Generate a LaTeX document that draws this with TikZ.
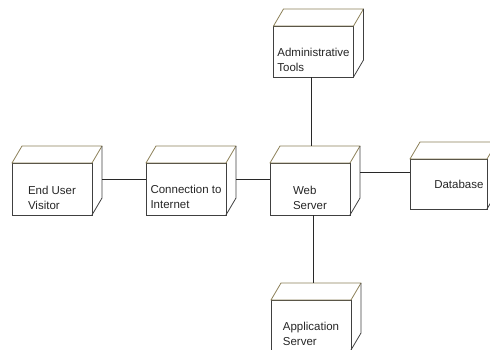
\documentclass[tikz,border=0pt]{standalone}
\usepackage{fontspec}
\setmainfont{Liberation Sans}
\usetikzlibrary{positioning}

\definecolor{edgegray}{RGB}{64,64,64}
\definecolor{topolive}{RGB}{140,128,88}
\definecolor{linkgray}{RGB}{40,40,40}
\newcommand{\lift}[1]{\rule{0pt}{#1}}

\begin{document}
\begin{tikzpicture}[
    x=1pt, y=1pt,
    cube/.style={rectangle, draw=edgegray, line width=0.8pt, outer sep=0pt, minimum width=80pt, minimum height=52pt, align=left, text=black!85, font=\fontsize{11.5}{15}\selectfont},
    topface/.style={draw=topolive, line width=0.8pt, line join=round},
    sideface/.style={draw=edgegray, line width=0.8pt, line join=round},
    link/.style={draw=linkgray, line width=0.8pt}
]
\clip (0,0) rectangle (490,349);

\node[cube] (web) at (310,160) {\lift{27pt}Web\\Server};
\node[cube, left=44pt of web] (conn) {\lift{24pt}Connection to\\Internet};
\node[cube, left=54pt of conn] (user) {\lift{26pt}End User\\Visitor};
\node[cube, minimum height=51pt, above=86pt of web, xshift=3.5pt] (admin) {\lift{25pt}Administrative\\Tools};
\node[cube, minimum width=77pt, minimum height=50pt, right=60pt of web, yshift=5pt, text width=70pt, align=right] (db) {Database};
\node[cube, minimum height=50pt, below=85pt of web, xshift=1pt] (app) {\lift{26pt}Application\\Server};

% top and side faces
\foreach \n in {user,conn,web,admin,db,app} {
  \draw[topface] (\n.north west) -- ++(10,17) -- ([shift={(10,17)}]\n.north east) -- (\n.north east) -- cycle;
  \draw[sideface] ([shift={(10,17)}]\n.north east) -- ([shift={(10,17)}]\n.south east) -- (\n.south east);
}

\draw[link] ([shift={(10pt,10pt)}]user.east) -- ([yshift=10pt]conn.west);
\draw[link] ([shift={(10pt,10pt)}]conn.east) -- ([yshift=10pt]web.west);
\draw[link] ([shift={(10pt,17pt)}]web.east) -- ([yshift=12pt]db.west);
\draw[link] ([xshift=-2pt]admin.south) -- ([shift={(1.5pt,17pt)}]web.north);
\draw[link] ([xshift=3pt]web.south) -- ([shift={(2pt,17pt)}]app.north);

\end{tikzpicture}
\end{document}
